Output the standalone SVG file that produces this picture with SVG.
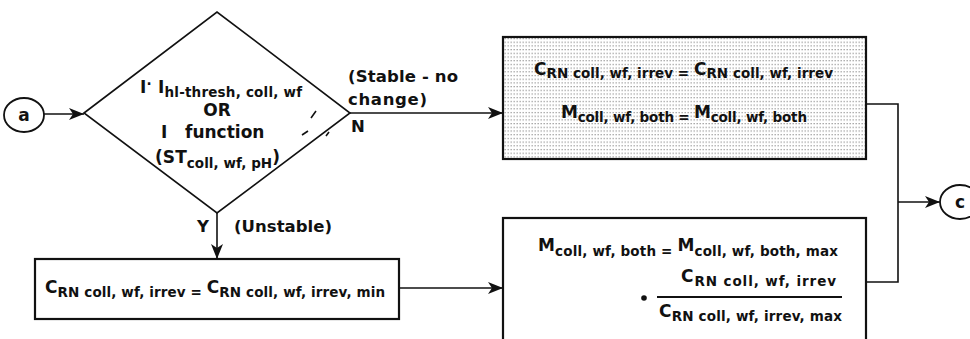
<svg xmlns="http://www.w3.org/2000/svg" width="970" height="339" viewBox="0 0 970 339">
  <defs>
    <style>
      .ln { fill: none; stroke: #111; stroke-width: 1.6; }
      .box { fill: #fff; stroke: #111; stroke-width: 2.2; }
      .t { font-family: "DejaVu Sans", "Liberation Sans", sans-serif; font-weight: bold; fill: #111; }
      .m { font-size: 17px; }
      .s { font-size: 13.5px; }
      .lbl { font-size: 16.5px; }
    </style>
    <!-- stippled fill used for the "no change" box -->
    <pattern id="stipple" width="3" height="3.7" patternUnits="userSpaceOnUse">
      <rect width="3" height="3.7" fill="#fff"/>
      <rect x="0.6" y="1" width="1.1" height="1.1" fill="#7a7a7a"/>
    </pattern>
    <marker id="arrow" markerUnits="userSpaceOnUse" markerWidth="16" markerHeight="13" refX="15" refY="6" orient="auto">
      <path d="M0,0 L15,6 L0,12 L4,6 z" fill="#111"/>
    </marker>
  </defs>

  <rect width="970" height="339" fill="#fff"/>

  <!-- connectors -->
  <g id="connectors">
    <line class="ln" x1="44" y1="114" x2="84" y2="114" marker-end="url(#arrow)"/>
    <line class="ln" x1="350" y1="113" x2="503" y2="113" marker-end="url(#arrow)"/>
    <line class="ln" x1="217" y1="213" x2="217" y2="259" marker-end="url(#arrow)"/>
    <line class="ln" x1="399" y1="288" x2="503" y2="288" marker-end="url(#arrow)"/>
    <polyline class="ln" points="866,104 898,104 898,282 866,282"/>
    <line class="ln" x1="898" y1="202" x2="940" y2="202" marker-end="url(#arrow)"/>
  </g>

  <!-- entry point a -->
  <g id="node-a">
    <ellipse cx="24" cy="115" rx="20" ry="17" fill="#fff" stroke="#111" stroke-width="1.8"/>
    <text class="t" x="24" y="121" font-size="17" text-anchor="middle">a</text>
  </g>

  <!-- stability test -->
  <g id="node-decision">
    <polygon class="ln" points="84,113 217,12 350,113 217,213"/>
    <text class="t" x="140" y="93" textLength="162"><tspan class="m">I</tspan><tspan class="s" dy="-4">·</tspan><tspan class="m" dy="4"> I</tspan><tspan class="s" dy="4">hl-thresh, coll, wf</tspan></text>
    <text class="t" x="217" y="116" font-size="17" text-anchor="middle">OR</text>
    <text class="t m" x="161" y="138">I<tspan x="185">function</tspan></text>
    <text class="t" x="155" y="163" textLength="125"><tspan class="m">(ST</tspan><tspan class="s" dy="5">coll, wf, pH</tspan><tspan class="m" dy="-5">)</tspan></text>
    <path class="ln" stroke-width="1.2" d="M311,118 L316,111 M302,135 L308,131 M326,136 L329,132"/>
  </g>

  <!-- branch labels -->
  <g id="labels">
    <text class="t lbl" x="348" y="82" textLength="110">(Stable - no</text>
    <text class="t lbl" x="348" y="105" textLength="79">change)</text>
    <text class="t lbl" x="351" y="132">N</text>
    <text class="t lbl" x="197" y="232">Y</text>
    <text class="t lbl" x="234" y="232" textLength="98">(Unstable)</text>
  </g>

  <!-- stable: values kept -->
  <g id="node-stable">
    <rect x="503" y="37" width="363" height="122" fill="url(#stipple)" stroke="#111" stroke-width="2.2"/>
    <text class="t" x="534" y="75" textLength="299"><tspan class="m">C</tspan><tspan class="s" dy="3">RN coll, wf, irrev = </tspan><tspan class="m" dy="-3">C</tspan><tspan class="s" dy="3">RN coll, wf, irrev</tspan></text>
    <text class="t" x="561" y="118" textLength="246"><tspan class="m">M</tspan><tspan class="s" dy="4">coll, wf, both = </tspan><tspan class="m" dy="-4">M</tspan><tspan class="s" dy="4">coll, wf, both</tspan></text>
  </g>

  <!-- unstable: reset to minimum -->
  <g id="node-unstable">
    <rect class="box" x="35" y="259" width="364" height="60"/>
    <text class="t" x="45" y="293" textLength="340"><tspan class="m">C</tspan><tspan class="s" dy="4">RN coll, wf, irrev = </tspan><tspan class="m" dy="-4">C</tspan><tspan class="s" dy="4">RN coll, wf, irrev, min</tspan></text>
  </g>

  <!-- unstable: scaled mass -->
  <g id="node-mass">
    <rect class="box" x="503" y="218" width="363" height="140"/>
    <text class="t" x="538" y="251" textLength="300"><tspan class="m">M</tspan><tspan class="s" dy="5">coll, wf, both = </tspan><tspan class="m" dy="-5">M</tspan><tspan class="s" dy="5">coll, wf, both, max</tspan></text>
    <circle cx="644" cy="298" r="2.8" fill="#111"/>
    <text class="t" x="681" y="282" textLength="155"><tspan class="m">C</tspan><tspan class="s" dy="4">RN coll, wf, irrev</tspan></text>
    <line x1="657" y1="297" x2="842" y2="297" stroke="#111" stroke-width="2"/>
    <text class="t" x="659" y="317" textLength="183"><tspan class="m">C</tspan><tspan class="s" dy="4">RN coll, wf, irrev, max</tspan></text>
  </g>

  <!-- exit point c -->
  <g id="node-c">
    <ellipse cx="960" cy="202" rx="20" ry="17" fill="#fff" stroke="#111" stroke-width="1.8"/>
    <text class="t" x="960" y="208" font-size="17" text-anchor="middle">c</text>
  </g>
</svg>
